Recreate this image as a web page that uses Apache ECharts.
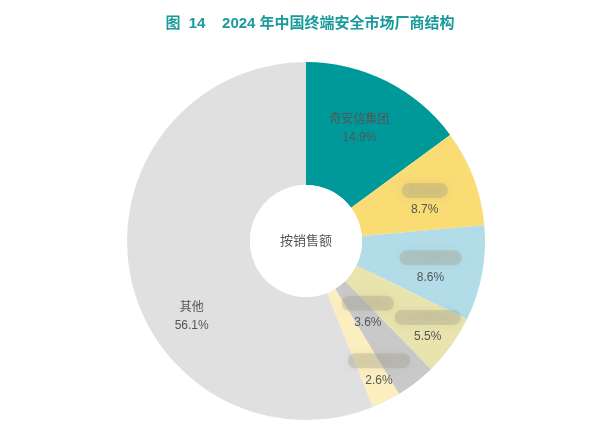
<!DOCTYPE html>
<html><head><meta charset="utf-8">
<script src="https://cdn.jsdelivr.net/npm/echarts@6/dist/echarts.min.js"></script>
<style>html,body{margin:0;padding:0;background:#fff}#c{width:594px;height:426px}</style>
</head><body><div id="c"></div>
<script>
const names = ['奇安信集团', '厂商B', '厂商C', '厂商D', '厂商E', '厂商F', '其他'];
const values = [14.9, 8.7, 8.6, 5.5, 3.6, 2.6, 56.1];
const blurred = [false, true, true, true, true, true, false];
const colors = ['#00999a', '#f9dc74', '#b2dde8', '#e9e3ad', '#c9c9c9', '#fcefbf', '#e0e0e0'];
const blurWidths = [0, 46, 62, 66, 52, 62, 0];
const labelOffsets = [[-1,-5],[6,2],[6,5],[24,16],[-12,-23],[19,22],[4,53]];

const FONT = '"Liberation Sans", "Noto Sans CJK SC", sans-serif';
const chart = echarts.init(document.getElementById('c'));
const data = names.map((n, i) => ({
  name: n, value: values[i],
  itemStyle: { color: colors[i] },
  label: blurred[i] ? {
    formatter: '{b|' + n + '}\n{v|{c}%}',
    rich: {
      b: { width: blurWidths[i], height: 15, align: 'center', color: 'rgba(150,140,110,0.04)',
           backgroundColor: 'rgba(160,155,135,0.32)', borderRadius: 7,
           shadowBlur: 8, shadowColor: 'rgba(160,155,135,0.45)', fontSize: 11, fontFamily: FONT },
      v: { fontSize: 12, color: '#555', lineHeight: 20, padding: [4,0,0,0], fontFamily: FONT }
    }
  } : {
    formatter: '{b|' + n + '}\n{v|{c}%}',
    rich: {
      b: { fontSize: 12, color: '#555', lineHeight: 18, fontFamily: FONT },
      v: { fontSize: 12, color: '#555', lineHeight: 18, fontFamily: FONT }
    }
  }
}));

chart.setOption({
  animation: false,
  title: {
    text: '图  14    2024 年中国终端安全市场厂商结构',
    left: 305, top: 11, textAlign: 'center',
    textStyle: { color: '#1a9b9b', fontSize: 15, fontWeight: 'bold', fontFamily: FONT }
  },
  series: [{
    type: 'pie',
    center: [306, 241],
    radius: [56, 179],
    startAngle: 90,
    clockwise: true,
    label: { show: true, position: 'inside', fontFamily: FONT },
    labelLine: { show: false },
    labelLayout: function (p) {
      const o = labelOffsets[p.dataIndex];
      return { dx: o[0], dy: o[1] };
    },
    emphasis: { disabled: true },
    data: data
  }, {
    type: 'pie',
    center: [306, 241],
    radius: [0, 56],
    silent: true,
    label: { show: true, position: 'center', formatter: '按销售额', fontSize: 13, color: '#555',
             fontFamily: FONT },
    labelLine: { show: false },
    itemStyle: { color: '#ffffff' },
    data: [{ name: '按销售额', value: 1 }]
  }]
});
</script></body></html>
